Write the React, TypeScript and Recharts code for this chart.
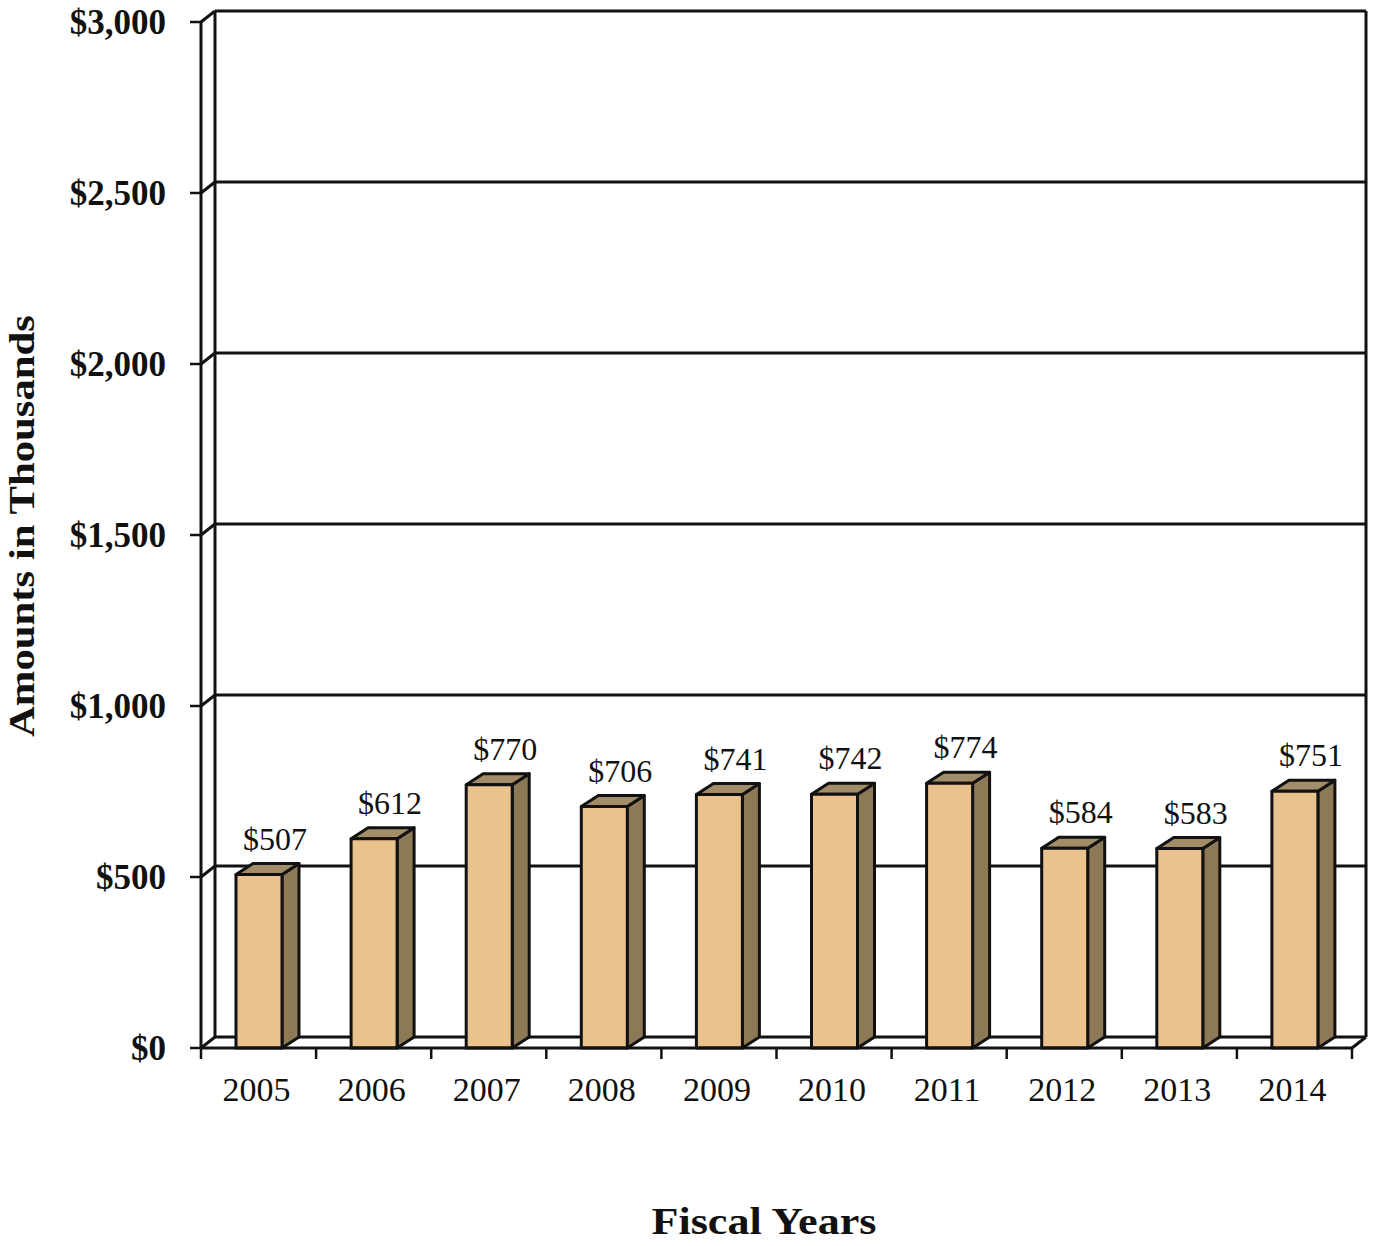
import React from "react";
import { BarChart, Bar, XAxis, YAxis, CartesianGrid, LabelList } from "recharts";

// fiscal years and amounts (in thousands)
const years = ["2005", "2006", "2007", "2008", "2009", "2010", "2011", "2012", "2013", "2014"];
const amounts = [507, 612, 770, 706, 741, 742, 774, 584, 583, 751];
const yTicks = [0, 500, 1000, 1500, 2000, 2500, 3000];

const W = 1377;
const H = 1246;
const PLOT_LEFT = 201;
const PLOT_TOP = 22;
const PLOT_RIGHT = 1352;
const PLOT_BOTTOM = 1048;
// depth of the back wall and of the bars
const WX = 14;
const WY = -11;
const BX = 17;
const BY = -11;

const FONT = '"Liberation Serif", "Times New Roman", serif';

const data = years.map((year, i) => ({ year, amount: amounts[i] }));

const money = (v: number) => "$" + v.toLocaleString("en-US");

const Bar3D = (props: any) => {
  const { x, y, width, height } = props;
  if (height == null || width == null) return null;
  const r = x + width;
  const b = y + height;
  return (
    <g stroke="#111" strokeWidth={3} strokeLinejoin="round">
      <polygon
        points={`${r},${y} ${r + BX},${y + BY} ${r + BX},${b + BY} ${r},${b}`}
        fill="#8E7957"
      />
      <polygon
        points={`${x},${y} ${x + BX},${y + BY} ${r + BX},${y + BY} ${r},${y}`}
        fill="#A38D69"
      />
      <rect x={x} y={y} width={width} height={height} fill="#EAC28D" />
    </g>
  );
};

const renderHLine = (p: any) => {
  const isBottom = Math.abs(p.y1 - PLOT_BOTTOM) < 1;
  return (
    <g key={`h-${p.index}`} stroke="#111" strokeWidth={3}>
      <line x1={p.x1} y1={p.y1} x2={p.x1 + WX} y2={p.y1 + WY} />
      <line x1={p.x1 + WX} y1={p.y1 + WY} x2={p.x2 + WX} y2={p.y1 + WY} />
      {isBottom && <line x1={p.x2} y1={p.y1} x2={p.x2 + WX} y2={p.y1 + WY} />}
    </g>
  );
};

const renderVLine = (p: any) => (
  <line
    key={`v-${p.index}`}
    x1={p.x1 + WX}
    y1={p.y1 + WY}
    x2={p.x2 + WX}
    y2={p.y2 + WY}
    stroke="#111"
    strokeWidth={3}
  />
);

const XTick = (props: any) => {
  const { x, payload, index } = props;
  const band = (PLOT_RIGHT - PLOT_LEFT) / years.length;
  const left = x - band / 2;
  return (
    <g>
      <line x1={left} y1={PLOT_BOTTOM} x2={left} y2={PLOT_BOTTOM + 11} stroke="#111" strokeWidth={2.5} />
      {index === years.length - 1 && (
        <line x1={left + band} y1={PLOT_BOTTOM} x2={left + band} y2={PLOT_BOTTOM + 11} stroke="#111" strokeWidth={2.5} />
      )}
      <text x={x - 2} y={PLOT_BOTTOM + 53} textAnchor="middle" fontFamily={FONT} fontSize={34} fill="#111">
        {payload.value}
      </text>
    </g>
  );
};

const YTick = (props: any) => {
  const { y, payload } = props;
  return (
    <text x={166} y={y + 12} textAnchor="end" fontFamily={FONT} fontSize={35} fontWeight="bold" fill="#111">
      {money(payload.value)}
    </text>
  );
};

const ValueLabel = (props: any) => {
  const { x, y, width, value } = props;
  return (
    <text x={x + width / 2 + 16} y={y - 25} textAnchor="middle" fontFamily={FONT} fontSize={32} fill="#111">
      {money(value)}
    </text>
  );
};

const App: React.FC = () => {
  return (
    <div style={{ position: "absolute", left: 0, top: 0, width: W, height: H, background: "#fff" }}>
      <BarChart
        width={W}
        height={H}
        data={data}
        margin={{ top: PLOT_TOP, right: W - PLOT_RIGHT, bottom: 0, left: 0 }}
        barSize={46}
      >
        <CartesianGrid
          horizontal={renderHLine}
          vertical={renderVLine}
          verticalPoints={[PLOT_LEFT, PLOT_RIGHT]}
          fill="#fff"
        />
        <XAxis
          dataKey="year"
          height={H - PLOT_BOTTOM}
          tickLine={false}
          tickSize={0}
          tickMargin={0}
          axisLine={{ stroke: "#111", strokeWidth: 3 }}
          tick={<XTick />}
          interval={0}
          label={{
            content: () => (
              <text x={764} y={1234} textAnchor="middle" fontFamily={FONT} fontSize={38} fontWeight="bold" fill="#111" textLength={225} lengthAdjust="spacingAndGlyphs">
                Fiscal Years
              </text>
            ),
          }}
        />
        <YAxis
          width={PLOT_LEFT}
          domain={[0, 3000]}
          ticks={yTicks}
          interval={0}
          tickSize={11}
          tickLine={{ stroke: "#111", strokeWidth: 2.5 }}
          axisLine={{ stroke: "#111", strokeWidth: 3 }}
          tick={<YTick />}
          label={{
            content: () => (
              <text transform="translate(34,526) rotate(-90)" textAnchor="middle" fontFamily={FONT} fontSize={36} fontWeight="bold" fill="#111" textLength={422} lengthAdjust="spacingAndGlyphs">
                Amounts in Thousands
              </text>
            ),
          }}
        />
        <Bar dataKey="amount" shape={<Bar3D />} isAnimationActive={false}>
          <LabelList dataKey="amount" content={<ValueLabel />} />
        </Bar>
      </BarChart>
    </div>
  );
};

export default App;
